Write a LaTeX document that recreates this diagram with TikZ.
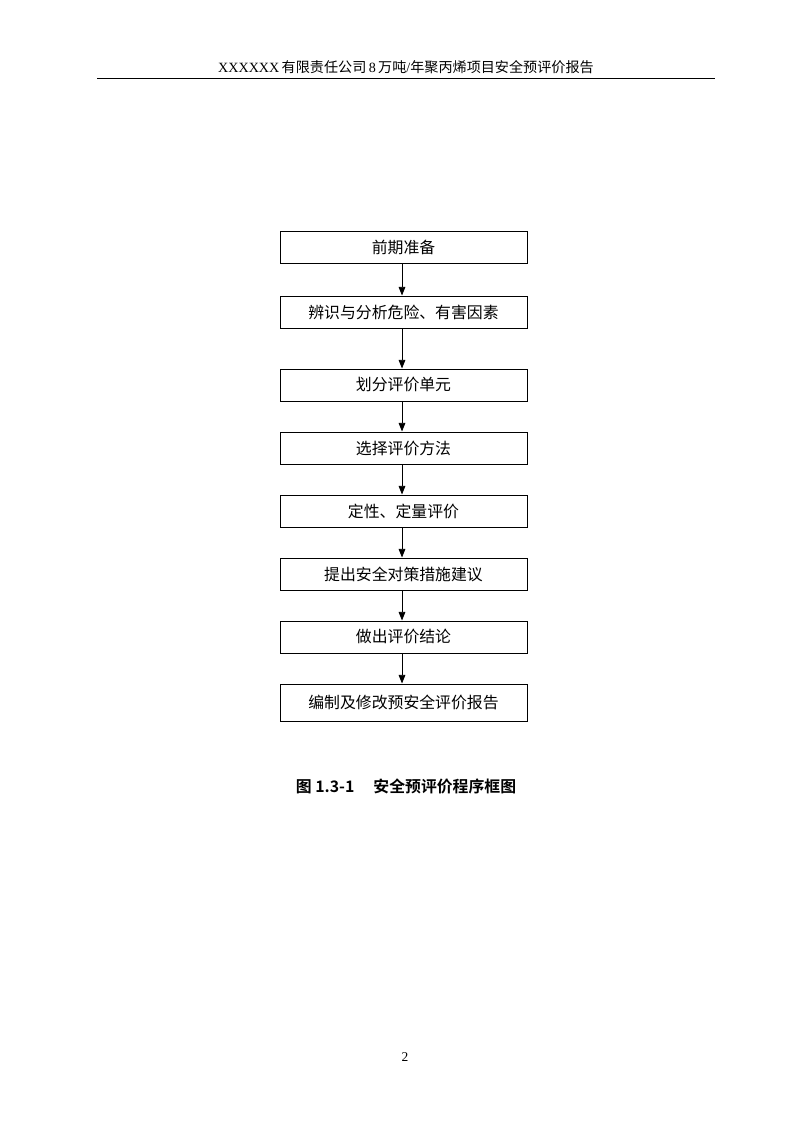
\documentclass[tikz,border=0pt]{standalone}
\usepackage{fontspec}
\setmainfont{Liberation Serif}
\newfontfamily\cjk{Noto Sans CJK SC}
\newfontfamily\cjkb{Noto Sans CJK SC Bold}
\usetikzlibrary{arrows.meta}
\begin{document}
\begin{tikzpicture}[x=0.744pt,y=-0.744pt,
  stepbox/.style={draw,line width=0.7pt,minimum width=247*0.744pt,minimum height=32*0.744pt,inner sep=0pt,font=\cjk\fontsize{11.8}{13}\selectfont},
  flow/.style={line width=0.7pt,-{Triangle[length=6.5pt,width=5pt]}}]
\useasboundingbox (0,0) rectangle (800,1132);
\fill[white] (0,0) rectangle (800,1132);
% header
\node (hdr) at (406,67) {\fontsize{10.5}{12}\selectfont XXXXXX\,{\cjk 有限责任公司}\,8\,{\cjk 万吨}/{\cjk 年聚丙烯项目安全预评价报告}};
\coordinate (hl) at (97,78);
\coordinate (hr) at (715,78);
\draw[line width=0.7pt] (hl) -- (hr);
% boxes
\node[stepbox] (b1) at (403.5,247) {前期准备};
\node[stepbox] (b2) at (403.5,312) {辨识与分析危险、有害因素};
\node[stepbox] (b3) at (403.5,385) {划分评价单元};
\node[stepbox] (b4) at (403.5,448) {选择评价方法};
\node[stepbox] (b5) at (403.5,511) {定性、定量评价};
\node[stepbox] (b6) at (403.5,574) {提出安全对策措施建议};
\node[stepbox] (b7) at (403.5,637) {做出评价结论};
\node[stepbox,minimum height=37*0.744pt] (b8) at (403.5,702.5) {编制及修改预安全评价报告};
\foreach \a/\b in {b1/b2,b2/b3,b3/b4,b4/b5,b5/b6,b6/b7,b7/b8}{
  \draw[flow] (\a.south -| 402,0) -- (\b.north -| 402,0);
}
% caption
\node (cap) at (406,786) {\cjkb\fontsize{11.8}{13}\selectfont 图 1.3-1\hspace{1.2em}安全预评价程序框图};
% page number
\node (pg) at (405,1057) {\fontsize{10}{12}\selectfont 2};
\end{tikzpicture}
\end{document}
